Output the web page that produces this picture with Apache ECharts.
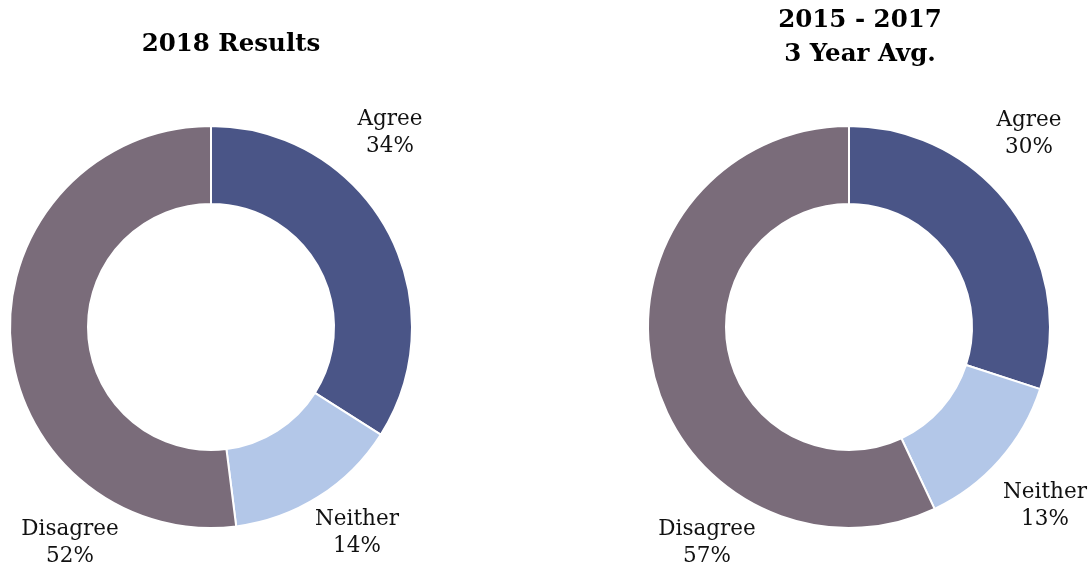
<!DOCTYPE html>
<html>
<head>
<meta charset="utf-8">
<style>
  html, body { margin: 0; padding: 0; background: #ffffff; }
  #chart { width: 1090px; height: 570px; }
</style>
<script src="https://cdn.jsdelivr.net/npm/echarts@6/dist/echarts.min.js"></script>
</head>
<body>
<div id="chart"></div>
<script>
// Survey response shares (percent)
const categories = ['Agree', 'Neither', 'Disagree'];
const results2018 = [34, 14, 52];
const avg2015to2017 = [30, 13, 57];

const colors = ['#4a5587', '#b3c7e8', '#7a6c7a'];
const fontFamily = '"DejaVu Serif", "Liberation Serif", serif';

// Label anchor points for each ring, in px (centre of the two-line label)
const labelAnchorsLeft = [[390, 133], [357, 533], [70, 543]];
const labelAnchorsRight = [[1029, 134], [1045, 506], [707, 543]];

function ring(values, center, anchors) {
  return {
    type: 'pie',
    center: center,
    radius: [123, 201],
    startAngle: 90,
    clockwise: true,
    avoidLabelOverlap: false,
    silent: true,
    itemStyle: { borderColor: '#ffffff', borderWidth: 2 },
    label: {
      show: true,
      position: 'outside',
      formatter: '{b}\n{c}%',
      color: '#111111',
      fontFamily: fontFamily,
      fontSize: 21.5,
      lineHeight: 27,
      align: 'center'
    },
    labelLine: { show: false },
    labelLayout: function (p) {
      const a = anchors[p.dataIndex];
      return { x: a[0], y: a[1], align: 'center', verticalAlign: 'middle' };
    },
    data: categories.map((name, i) => ({
      name: name,
      value: values[i],
      itemStyle: { color: colors[i] }
    }))
  };
}

const chart = echarts.init(document.getElementById('chart'), null, { renderer: 'canvas' });
chart.setOption({
  animation: false,
  backgroundColor: '#ffffff',
  title: [
    {
      text: '2018 Results',
      left: 226, top: 27, textAlign: 'center',
      textStyle: { fontFamily: fontFamily, fontWeight: 'bold', fontSize: 24.5, color: '#000000' }
    },
    {
      text: '2015 - 2017\n3 Year Avg.',
      left: 855, top: -1, textAlign: 'center',
      textStyle: { fontFamily: fontFamily, fontWeight: 'bold', fontSize: 24.5, lineHeight: 34, color: '#000000' }
    }
  ],
  series: [
    ring(results2018, [211, 327], labelAnchorsLeft),
    ring(avg2015to2017, [849, 327], labelAnchorsRight)
  ]
});
</script>
</body>
</html>
